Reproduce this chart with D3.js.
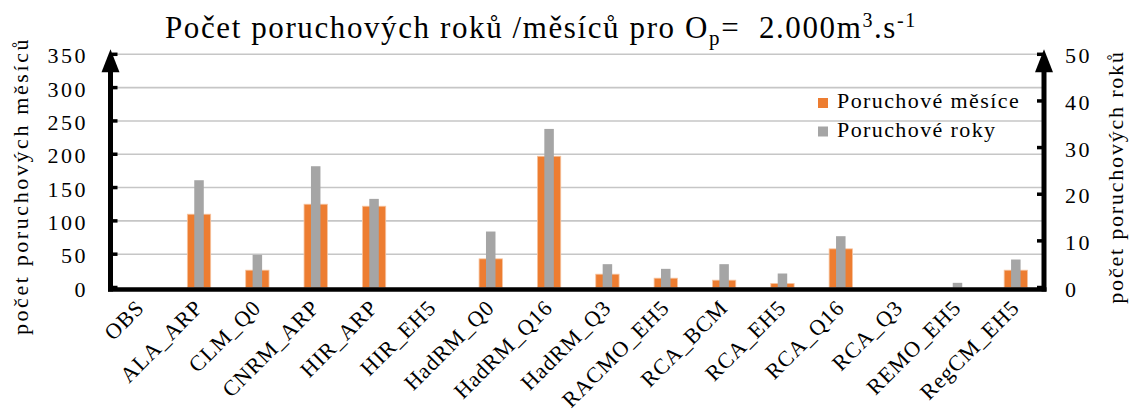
<!DOCTYPE html>
<html><head><meta charset="utf-8">
<script src="https://cdn.jsdelivr.net/npm/d3@7"></script>
<style>body{margin:0;background:#fff}svg{display:block}</style>
</head><body><svg id="c" width="1130" height="415" font-family="Liberation Serif, Times New Roman, serif"></svg>
<script>
const categories = ["OBS","ALA_ARP","CLM_Q0","CNRM_ARP","HIR_ARP","HIR_EH5","HadRM_Q0","HadRM_Q16","HadRM_Q3","RACMO_EH5","RCA_BCM","RCA_EH5","RCA_Q16","RCA_Q3","REMO_EH5","RegCM_EH5"];
const months = [0,110,26,125,122,0,43,197,20,14,11,6,58,0,0,26];
const years  = [0,23,7,26,19,0,12,34,5,4,5,3,11,0,1,6];
const leftTicks = [0,50,100,150,200,250,300,350];
const rightTicks = [0,10,20,30,40,50];
const seriesNames = ["Poruchové měsíce","Poruchové roky"];
const colors = ["#ED7D31","#A5A5A5"];

const FF = "'Liberation Serif','Times New Roman',serif";
const svg = d3.select("#c");
const L = 111.5, R = 1045, T = 54.3, B = 287.5;
const x = d3.scaleBand().domain(categories).range([L, R]).paddingInner(0).paddingOuter(0);
const yL = d3.scaleLinear().domain([0,350]).range([B, T]);
const yR = d3.scaleLinear().domain([0,50]).range([B, T]);

// gridlines
svg.append("g").selectAll("line").data(leftTicks.filter(d=>d>0)).join("line")
  .attr("x1", L).attr("x2", R-2).attr("y1", d=>yL(d)).attr("y2", d=>yL(d))
  .attr("stroke","#c6c6c6").attr("stroke-width",1.6);

// bars
const bw = x.bandwidth();
const ow = bw*0.4, gw = bw*0.163;
svg.append("g").selectAll("rect").data(categories).join("rect")
  .attr("x", d=>x(d)+bw/2-ow/2).attr("width", ow)
  .attr("y", (d,i)=>yL(months[i])).attr("height",(d,i)=>B-yL(months[i]))
  .attr("fill", colors[0]).attr("stroke","#f6c4a0").attr("stroke-width",(d,i)=>months[i]>0?0.8:0);
svg.append("g").selectAll("rect").data(categories).join("rect")
  .attr("x", d=>x(d)+bw/2-gw/2).attr("width", gw)
  .attr("y", (d,i)=>yR(years[i])).attr("height",(d,i)=>B-yR(years[i]))
  .attr("fill", colors[1]);

// axes lines
const ax = svg.append("g");
ax.append("line").attr("x1",L-1).attr("x2",L-1).attr("y1",B+4).attr("y2",T+10).attr("stroke","#000").attr("stroke-width",5);
ax.append("path").attr("d",`M${L-1},${T-5} L${L-10},${T+18} L${L+8},${T+18} Z`).attr("fill","#000");
ax.append("line").attr("x1",R-1).attr("x2",R-1).attr("y1",B+4).attr("y2",T+10).attr("stroke","#000").attr("stroke-width",5);
ax.append("path").attr("d",`M${R-1},${T-5} L${R-10},${T+18} L${R+8},${T+18} Z`).attr("fill","#000");
ax.append("line").attr("x1",L-3.5).attr("x2",R+1.5).attr("y1",B+2).attr("y2",B+2).attr("stroke","#000").attr("stroke-width",4.5);
// ticks
ax.selectAll(".tl").data(leftTicks).join("line").attr("class","tl")
  .attr("x1",L).attr("x2",L+6).attr("y1",d=>yL(d)).attr("y2",d=>yL(d)).attr("stroke","#000").attr("stroke-width",3.5);
ax.selectAll(".tr").data(rightTicks).join("line").attr("class","tr")
  .attr("x1",R-8).attr("x2",R-2).attr("y1",d=>yR(d)).attr("y2",d=>yR(d)).attr("stroke","#000").attr("stroke-width",3.5);

// tick labels
svg.append("g").selectAll("text").data(leftTicks).join("text")
  .attr("x", 88).attr("y", d=>yL(d)+9).attr("text-anchor","end").attr("font-family",FF)
  .attr("font-size",22).attr("letter-spacing",2.5).text(d=>d);
svg.append("g").selectAll("text").data(rightTicks).join("text")
  .attr("x", 1065).attr("y", d=>yR(d)+9).attr("text-anchor","start").attr("font-family",FF)
  .attr("font-size",22).attr("letter-spacing",2.5).text(d=>d);

// x labels
svg.append("g").selectAll("text").data(categories).join("text")
  .attr("transform", d=>`translate(${x(d)+bw/2+5},${309}) rotate(-45)`).attr("font-family",FF)
  .attr("text-anchor","end").attr("font-size",22).attr("letter-spacing",1).text(d=>d);

// axis titles
svg.append("text").attr("transform","translate(28,186) rotate(-90)").attr("text-anchor","middle").attr("font-family",FF)
  .attr("font-size",22).attr("letter-spacing",2.6).text("počet poruchových měsíců");
svg.append("text").attr("transform","translate(1123,177) rotate(-90)").attr("text-anchor","middle").attr("font-family",FF)
  .attr("font-size",22).attr("letter-spacing",1.8).text("počet poruchových roků");

// title
const t = svg.append("text").attr("x",165).attr("y",38).attr("font-size",31).attr("letter-spacing",1.6)
  .attr("font-family",FF).attr("xml:space","preserve");
t.append("tspan").text("Počet poruchových roků /měsíců pro O");
t.append("tspan").attr("font-size",21).attr("dy",7).text("p");
t.append("tspan").attr("dy",-7).text("=\u00a0\u00a02.000m");
t.append("tspan").attr("font-size",20).attr("dy",-11).text("3");
t.append("tspan").attr("dy",11).text(".s");
t.append("tspan").attr("font-size",20).attr("dy",-11).text("-1");

// legend
const lg = svg.append("g");
seriesNames.forEach((n,i)=>{
  lg.append("rect").attr("x",818).attr("y",98+i*28.5).attr("width",10).attr("height",10).attr("fill",colors[i]);
  lg.append("text").attr("x",837).attr("y",108+i*28.5).attr("font-family",FF).attr("font-size",22).attr("letter-spacing",1.4).text(n);
});
</script></body></html>
